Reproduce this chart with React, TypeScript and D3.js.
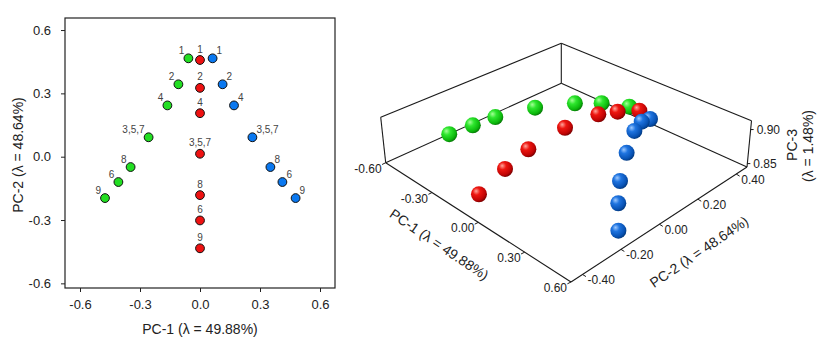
import React, { useRef, useEffect } from 'react';
import * as d3 from 'd3';

const W = 825;
const H = 351;
const FONT = '"Liberation Sans", Arial, sans-serif';

// sample labels, same order in every group
const sampleLabels = ['1', '2', '4', '3,5,7', '8', '6', '9'];

// left panel: PC-1 / PC-2 scores
const greenPC1 = [-0.058, -0.108, -0.163, -0.257, -0.347, -0.408, -0.475];
const greenPC2 = [0.466, 0.343, 0.243, 0.092, -0.049, -0.12, -0.196];
const redPC1 = [0, 0, 0, 0, 0, 0, 0];
const redPC2 = [0.458, 0.326, 0.206, 0.014, -0.182, -0.302, -0.434];
const bluePC1 = [0.063, 0.113, 0.17, 0.262, 0.352, 0.412, 0.478];
const bluePC2 = [0.466, 0.343, 0.243, 0.092, -0.049, -0.12, -0.196];

const greenPC2b = [0.369, 0.266, 0.174, 0.047, -0.084, -0.152, -0.222];
const greenPC3 = [0.8818, 0.8978, 0.9051, 0.9058, 0.8986, 0.8875, 0.8745];
const redPC2b = [0.374, 0.261, 0.162, -0.007, -0.193, -0.313, -0.449];
const redPC3 = [0.8811, 0.8974, 0.9087, 0.914, 0.9098, 0.899, 0.8828];
const bluePC2b = [0.379, 0.294, 0.21, 0.097, -0.008, -0.064, -0.115];
const bluePC3 = [0.8742, 0.8894, 0.8952, 0.8913, 0.8781, 0.8629, 0.8412];

const ticks2d = [-0.6, -0.3, 0, 0.3, 0.6];
const pc1Ticks = [-0.6, -0.3, 0, 0.3, 0.6];
const pc2Ticks = [-0.4, -0.2, 0, 0.2, 0.4];
const pc3Ticks = [0.85, 0.9];

type Pt = [number, number];

const groups = [
  {
    id: 'green', fill: '#22de22', pc1: greenPC1, pc2: greenPC2, pc2b: greenPC2b, pc3: greenPC3,
    anchor: 'end', dx: -4, dy: -4.5,
    stops: ['#a6ff98', '#2ee62e', '#0cb80c', '#067806'],
  },
  {
    id: 'red', fill: '#ee1111', pc1: redPC1, pc2: redPC2, pc2b: redPC2b, pc3: redPC3,
    anchor: 'middle', dx: 0, dy: -7.5,
    stops: ['#ffa69c', '#ee1610', '#c00404', '#7a0000'],
  },
  {
    id: 'blue', fill: '#0a78f0', pc1: bluePC1, pc2: bluePC2, pc2b: bluePC2b, pc3: bluePC3,
    anchor: 'start', dx: 4, dy: -4.5,
    stops: ['#9cc8ff', '#1f74e0', '#0852b4', '#033a80'],
  },
];

// 3D box: screen anchors of the floor corners and of the vertical edges
const floor: Record<string, Pt> = { L: [385.7, 162.7], F: [571, 282], R: [747, 167], B: [561.3, 83.3] };
const rise: Record<string, Pt> = { L: [-5, -45.4], F: [-0.5, -51.7], R: [4.5, -46.3], B: [0, -40] };

function bilinear(c: Record<string, Pt>, u: number, v: number): Pt {
  const a = (1 - u) * (1 - v), b = u * (1 - v), d = u * v, e = (1 - u) * v;
  return [
    a * c.L[0] + b * c.F[0] + d * c.R[0] + e * c.B[0],
    a * c.L[1] + b * c.F[1] + d * c.R[1] + e * c.B[1],
  ];
}

function project(u: number, v: number, w: number): Pt {
  const p = bilinear(floor, u, v);
  const z = bilinear(rise, u, v);
  return [p[0] + w * z[0], p[1] + w * z[1]];
}

const App: React.FC = () => {
  const svgRef = useRef<SVGSVGElement>(null);

  useEffect(() => {
    const svg = d3.select(svgRef.current);
    svg.selectAll('*').remove();
    svg.append('rect').attr('width', W).attr('height', H).attr('fill', '#fff');

    const defs = svg.append('defs');
    groups.forEach(g => {
      const grad = defs
        .append('radialGradient')
        .attr('id', `sph-${g.id}`)
        .attr('cx', 0.38)
        .attr('cy', 0.36)
        .attr('r', 0.66)
        .attr('fx', 0.32)
        .attr('fy', 0.3);
      [0, 0.35, 0.8, 1].forEach((o, i) => {
        grad.append('stop').attr('offset', o).attr('stop-color', g.stops[i]);
      });
    });

    // ---------- left panel ----------
    const x = d3.scaleLinear().domain([-0.675, 0.675]).range([65, 335]);
    const y = d3.scaleLinear().domain([-0.622, 0.657]).range([288, 18]);
    const fmt1 = (d: number) => d.toFixed(1);

    const xAxis = svg
      .append('g')
      .attr('transform', 'translate(0,288)')
      .call(d3.axisBottom(x).tickValues(ticks2d).tickSize(4).tickPadding(8).tickFormat(d => fmt1(+d)));
    const yAxis = svg
      .append('g')
      .attr('transform', 'translate(65,0)')
      .call(d3.axisLeft(y).tickValues(ticks2d).tickSize(4).tickPadding(10).tickFormat(d => fmt1(+d)));
    [xAxis, yAxis].forEach(ax => {
      ax.select('.domain').remove();
      ax.selectAll('line').attr('stroke', '#222');
      ax.selectAll('text').attr('font-family', FONT).attr('font-size', 13).attr('fill', '#222');
    });

    svg
      .append('rect')
      .attr('x', 65)
      .attr('y', 18)
      .attr('width', 270)
      .attr('height', 270)
      .attr('fill', 'none')
      .attr('stroke', '#222')
      .attr('stroke-width', 1.2);

    svg
      .append('text')
      .attr('x', 200)
      .attr('y', 334)
      .attr('text-anchor', 'middle')
      .attr('font-family', FONT)
      .attr('font-size', 14)
      .attr('fill', '#222')
      .text('PC-1 (λ = 49.88%)');
    svg
      .append('text')
      .attr('transform', 'translate(23,155) rotate(-90)')
      .attr('text-anchor', 'middle')
      .attr('font-family', FONT)
      .attr('font-size', 14)
      .attr('fill', '#222')
      .text('PC-2 (λ = 48.64%)');

    groups.forEach(g => {
      const rows = g.pc1.map((p, i) => ({ p1: p, p2: g.pc2[i], label: sampleLabels[i] }));
      svg
        .append('g')
        .selectAll('circle')
        .data(rows)
        .enter()
        .append('circle')
        .attr('cx', d => x(d.p1))
        .attr('cy', d => y(d.p2))
        .attr('r', 4.4)
        .attr('fill', g.fill)
        .attr('stroke', '#111')
        .attr('stroke-width', 1);
      svg
        .append('g')
        .selectAll('text')
        .data(rows)
        .enter()
        .append('text')
        .attr('x', d => x(d.p1) + g.dx)
        .attr('y', d => y(d.p2) + g.dy)
        .attr('text-anchor', g.anchor)
        .attr('font-family', FONT)
        .attr('font-size', 10)
        .attr('fill', '#444')
        .text(d => d.label);
    });

    // ---------- right panel (3D) ----------
    const u = d3.scaleLinear().domain([-0.6, 0.6]).range([0, 1]);
    const v = d3.scaleLinear().domain([-0.46, 0.456]).range([0, 1]);
    const w = d3.scaleLinear().domain([0.845, 0.913]).range([0, 1]);
    const fmt2 = (d: number) => d.toFixed(2);

    const edges: [number, number, number][][] = [
      [[0, 0, 1], [0, 1, 1]],
      [[0, 1, 1], [1, 1, 1]],
      [[0, 0, 0], [0, 1, 0]],
      [[0, 1, 0], [1, 1, 0]],
      [[0, 0, 0], [0, 0, 1]],
      [[0, 1, 0], [0, 1, 1]],
      [[1, 1, 0], [1, 1, 1]],
      [[0, 0, 0], [1, 0, 0]],
      [[1, 0, 0], [1, 1, 0]],
    ];
    const line = d3.line<Pt>();
    svg
      .append('g')
      .selectAll('path')
      .data(edges)
      .enter()
      .append('path')
      .attr('d', e => line(e.map(c => project(c[0], c[1], c[2]))))
      .attr('fill', 'none')
      .attr('stroke', '#1a1a1a')
      .attr('stroke-width', 1.1);

    const tickG = svg.append('g').attr('stroke', '#1a1a1a').attr('stroke-width', 1);
    const labG = svg
      .append('g')
      .attr('font-family', FONT)
      .attr('font-size', 12)
      .attr('fill', '#222');

    // PC-1 axis (front-left edge)
    pc1Ticks.forEach(t => {
      const p = project(u(t), 0, 0);
      tickG.append('line').attr('x1', p[0]).attr('y1', p[1]).attr('x2', p[0] - 3.6).attr('y2', p[1] + 1.8);
      labG.append('text').attr('x', p[0] - 4).attr('y', p[1] + 10).attr('text-anchor', 'end').text(fmt2(t));
    });
    // PC-2 axis (front-right edge)
    pc2Ticks.forEach(t => {
      const p = project(1, v(t), 0);
      tickG.append('line').attr('x1', p[0]).attr('y1', p[1]).attr('x2', p[0] + 3.4).attr('y2', p[1] + 2.1);
      labG.append('text').attr('x', p[0] + 5).attr('y', p[1] + 10).text(fmt2(t));
    });
    // PC-3 axis (right vertical edge)
    pc3Ticks.forEach(t => {
      const p = project(1, 1, w(t));
      tickG.append('line').attr('x1', p[0]).attr('y1', p[1]).attr('x2', p[0] + 3).attr('y2', p[1]);
      labG.append('text').attr('x', p[0] + 6).attr('y', p[1] + 4).text(fmt2(t));
    });

    const titleG = svg
      .append('g')
      .attr('font-family', FONT)
      .attr('font-size', 14)
      .attr('fill', '#222')
      .attr('text-anchor', 'middle');
    titleG.append('text').attr('transform', 'translate(436.5,248.5) rotate(34)').text('PC-1 (λ = 49.88%)');
    titleG.append('text').attr('transform', 'translate(701.8,256) rotate(-34)').text('PC-2 (λ = 48.64%)');
    titleG.append('text').attr('transform', 'translate(797,145) rotate(-90)').text('PC-3');
    titleG.append('text').attr('transform', 'translate(812.5,146) rotate(-90)').text('(λ = 1.48%)');

    const spheres = groups.flatMap(g =>
      g.pc1.map((p, i) => {
        const uu = u(p), vv = v(g.pc2b[i]), ww = w(g.pc3[i]);
        return { id: g.id, pos: project(uu, vv, ww), depth: uu - vv + 0.1 * ww };
      })
    );
    spheres.sort((a, b) => a.depth - b.depth);
    svg
      .append('g')
      .selectAll('circle')
      .data(spheres)
      .enter()
      .append('circle')
      .attr('cx', d => d.pos[0])
      .attr('cy', d => d.pos[1])
      .attr('r', 8)
      .attr('fill', d => `url(#sph-${d.id})`);
  }, []);

  return (
    <svg
      ref={svgRef}
      width={W}
      height={H}
      style={{ position: 'absolute', left: 0, top: 0 }}
    />
  );
};

export default App;
